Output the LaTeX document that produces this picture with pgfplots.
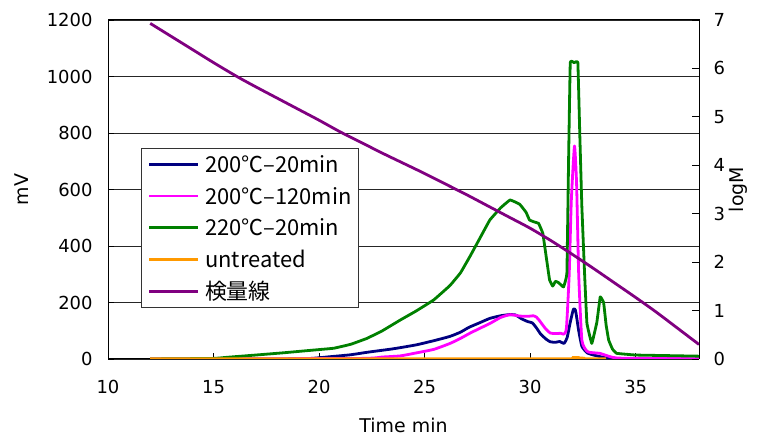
\documentclass[border=0pt]{standalone}
\usepackage{pgfplots}
\pgfplotsset{compat=1.18}
\usepackage{fontspec}
\setmainfont{DejaVu Sans}
\newfontfamily\cjk{Noto Sans CJK JP}
\definecolor{cnavy}{RGB}{0,0,128}
\definecolor{cmag}{RGB}{255,0,255}
\definecolor{cgreen}{RGB}{0,128,0}
\definecolor{corange}{RGB}{255,153,0}
\definecolor{cpurple}{RGB}{128,0,128}
\begin{document}
\begin{tikzpicture}[x=1bp,y=1bp]
\useasboundingbox (0,0) rectangle (758,437);
\begin{axis}[
  at={(108bp,78bp)}, anchor=south west,
  scale only axis, width=591bp, height=339bp,
  xmin=10, xmax=38, ymin=0, ymax=1200,
  xtick={10,15,...,35}, ytick={0,200,...,1200},
  xtick pos=bottom, ytick pos=left, tick align=inside,
  major tick length=6bp,
  ymajorgrids, grid style={black!85, line width=0.9bp},
  axis line style={black, line width=1bp},
  tick style={black, line width=0.9bp},
  /pgf/number format/assume math mode=true,
  /pgf/number format/1000 sep={},
  ticklabel style={font=\fontsize{18}{20}\selectfont},
  xticklabel style={yshift=-18bp},
  yticklabel style={xshift=-12bp},
  xlabel={Time min}, ylabel={mV},
  label style={font=\fontsize{19}{22}\selectfont},
  xlabel style={at={(axis description cs:0.5,-0.1947)}, anchor=center},
  ylabel style={at={(axis description cs:-0.1455,0.5)}, anchor=center},
  legend cell align=left,
  legend image code/.code={\draw[#1] (0bp,0bp) -- (48.4bp,0bp);},
  legend style={at={(axis description cs:0.0558,0.622)}, anchor=north west,
    draw=black!80, line width=0.8bp, fill=white,
    inner xsep=6.5bp, inner ysep=0pt, row sep=0pt, column sep=6bp,
    font=\cjk\fontsize{22}{26}\selectfont,
    nodes={inner xsep=0pt, inner ysep=7.85bp, text height=16bp, text depth=0bp}},
  every axis plot/.append style={line width=2.8bp, line join=round, smooth, tension=0.3},
]
\addplot[cnavy] coordinates {
(12,0)(18,0)(19.6,2)(20.5,8)(21.5,15)(22.3,24)(23.5,36)(24.6,50)(25.5,66)(26.2,80)
(26.7,95)(27.1,112)(27.6,128)(28.1,144)(28.6,153)(29.0,157)(29.3,156)(29.6,142)
(29.9,132)(30.1,128)(30.3,110)(30.5,88)(30.76,70)(30.95,61)(31.2,59)(31.4,62)
(31.6,55)(31.75,75)(31.9,130)(32.05,176)(32.15,172)(32.3,100)(32.45,45)(32.7,22)
(33.0,14)(33.6,4)(34.5,1)(38,0)};
\addlegendentry{200℃–20min}
\addplot[cmag] coordinates {
(12,0)(21.9,2)(23.0,7)(23.85,11)(24.5,20)(25.43,34)(26.2,55)(26.7,73)(27.14,91)
(27.6,108)(28.1,126)(28.6,147)(29.05,157)(29.5,152)(29.9,151)(30.15,153)(30.3,148)
(30.45,135)(30.7,110)(30.95,92)(31.2,90)(31.45,91)(31.6,88)(31.72,110)(31.85,300)
(31.95,560)(32.1,754)(32.2,620)(32.3,300)(32.45,67)(32.7,27)(33.0,22)(33.3,20)
(33.8,8)(34.3,3)(38,1)};
\addlegendentry{200℃–120min}
\addplot[cgreen, tension=0.12] coordinates {
(12,0)(15.0,2)(15.64,6)(17.0,14)(18.32,22)(19.5,30)(20.69,38)(21.5,52)(22.27,73)
(23.0,100)(23.85,138)(24.6,170)(25.43,209)(26.2,260)(26.7,305)(27.14,362)(27.6,425)
(28.09,492)(28.6,535)(29.05,563)(29.5,548)(29.8,520)(29.97,492)(30.2,485)(30.4,480)
(30.6,445)(30.76,362)(30.92,280)(31.07,258)(31.2,275)(31.35,270)(31.58,255)(31.74,303)
(31.82,700)(31.9,1049)(32.08,1049)(32.26,1049)(32.35,800)(32.45,539)(32.58,300)(32.69,126)
(32.92,55)(33.16,130)(33.32,220)(33.48,200)(33.6,120)(33.72,67)(33.9,35)(34.1,20)
(35,14)(36.5,12)(38,10)};
\addlegendentry{220℃–20min}
\addplot[corange] coordinates {
(12,1)(31.8,1)(32.0,5)(32.3,5)(32.5,1)(33.6,1)};
\addlegendentry{untreated}
\addlegendimage{cpurple, line width=2.8bp}
\addlegendentry{検量線}
\end{axis}
\begin{axis}[
  at={(108bp,78bp)}, anchor=south west,
  scale only axis, width=591bp, height=339bp,
  xmin=10, xmax=38, ymin=0, ymax=7,
  axis x line=none, axis y line*=right,
  ytick={0,1,...,7}, tick align=inside,
  major tick length=7bp,
  axis line style={black, line width=1bp, -},
  tick style={black, line width=0.9bp},
  /pgf/number format/assume math mode=true,
  ticklabel style={font=\fontsize{18}{20}\selectfont},
  yticklabel style={xshift=11bp},
  ylabel={logM},
  label style={font=\fontsize{19}{22}\selectfont},
  ylabel style={at={(axis description cs:1.066,0.5)}, anchor=center},
]
\addplot[cpurple, line width=2.8bp, smooth] coordinates {
(12,6.93)(13,6.66)(14,6.39)(15,6.12)(16.12,5.83)(17,5.62)(18,5.39)(19,5.16)(20,4.93)
(21,4.69)(22,4.47)(23,4.25)(24,4.04)(25,3.83)(26,3.61)(27,3.39)(28,3.16)(29,2.93)
(30,2.70)(31,2.44)(32,2.16)(33,1.87)(34,1.57)(35,1.27)(36,0.96)(37,0.63)(38,0.30)};
\end{axis}
\end{tikzpicture}
\end{document}
